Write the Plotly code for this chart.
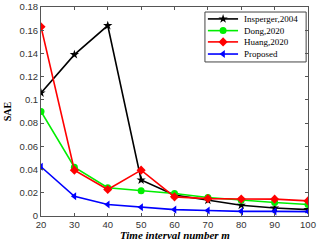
import plotly.graph_objects as go

x_vals = [20, 30, 40, 50, 60, 70, 80, 90, 100]
insperger = [0.106, 0.139, 0.164, 0.031, 0.018, 0.0136, 0.0093, 0.0069, 0.0055]
dong = [0.090, 0.042, 0.0243, 0.0217, 0.0194, 0.0159, 0.0136, 0.0116, 0.0099]
huang = [0.163, 0.0395, 0.0228, 0.0395, 0.0165, 0.015, 0.0147, 0.0145, 0.013]
proposed = [0.0424, 0.017, 0.0099, 0.0075, 0.0055, 0.0047, 0.004, 0.004, 0.0038]

x_ticks = [20, 30, 40, 50, 60, 70, 80, 90, 100]
y_ticks = [0, 0.02, 0.04, 0.06, 0.08, 0.1, 0.12, 0.14, 0.16, 0.18]
y_tick_text = ["0", "0.02", "0.04", "0.06", "0.08", "0.1", "0.12", "0.14", "0.16", "0.18"]

names = ["Insperger,2004", "Dong,2020", "Huang,2020", "Proposed"]
colors = ["black", "#00ee00", "red", "blue"]
symbols = ["star", "circle", "diamond", "triangle-left"]
values = [insperger, dong, huang, proposed]

serif = "Liberation Serif, Times New Roman, serif"

fig = go.Figure()
for name, ys, col, sym in zip(names, values, colors, symbols):
    fig.add_trace(go.Scatter(
        x=x_vals, y=ys, name=name, mode="lines+markers", showlegend=False,
        line=dict(color=col, width=1.6),
        marker=dict(symbol=sym, size=7, color=col),
    ))

# Compact legend drawn in an overlay axis (0..1 box coordinates)
leg_x0, leg_x1, leg_y0, leg_y1 = 0.614, 0.993, 0.737, 0.976
row_y = [0.943, 0.887, 0.833, 0.775]
shapes = [dict(type="rect", xref="paper", yref="paper", x0=leg_x0, x1=leg_x1,
               y0=leg_y0, y1=leg_y1, line=dict(color="#444", width=1), fillcolor="white",
               layer="below")]
annotations = []
for name, col, sym, ry in zip(names, colors, symbols, row_y):
    fig.add_trace(go.Scatter(
        x=[0.625, 0.682, 0.738], y=[ry, ry, ry], xaxis="x2", yaxis="y2",
        mode="lines", showlegend=False, hoverinfo="skip",
        line=dict(color=col, width=1.6)))
    fig.add_trace(go.Scatter(
        x=[0.682], y=[ry], xaxis="x2", yaxis="y2",
        mode="markers", showlegend=False, hoverinfo="skip",
        marker=dict(symbol=sym, size=7, color=col)))
    annotations.append(dict(x=0.752, y=ry, xref="paper", yref="paper", text=name,
                            showarrow=False, xanchor="left", yanchor="middle",
                            font=dict(family=serif, size=9, color="black")))

annotations.append(dict(x=0.5, y=0, xref="paper", yref="paper",
                        text="<b><i>Time interval number m</i></b>", showarrow=False,
                        xanchor="center", yanchor="middle", yshift=-19,
                        font=dict(family=serif, size=11, color="black")))

axis_common = dict(
    showgrid=False, zeroline=False, showline=True, linecolor="#555",
    linewidth=1, mirror="ticks", ticks="inside", ticklen=3, tickcolor="#555",
    tickfont=dict(family="Liberation Sans, Arial", size=9.5, color="#333"),
)

fig.update_layout(
    width=319, height=242,
    margin=dict(l=41, r=11, t=7, b=26, autoexpand=False),
    paper_bgcolor="white", plot_bgcolor="white",
    showlegend=False,
    shapes=shapes,
    annotations=annotations,
    xaxis=dict(range=[20, 100], tickvals=x_ticks, ticklabelstandoff=0, **axis_common),
    yaxis=dict(range=[0, 0.18], tickvals=y_ticks, ticktext=y_tick_text,
               title=dict(text="<b>SAE</b>", standoff=6,
                          font=dict(family=serif, size=10, color="black")),
               **axis_common),
    xaxis2=dict(range=[0, 1], overlaying="x", visible=False, fixedrange=True),
    yaxis2=dict(range=[0, 1], overlaying="y", visible=False, fixedrange=True),
)

fig.write_html("out.html", config={"displayModeBar": False},
               post_script="document.body.style.margin='0';")
